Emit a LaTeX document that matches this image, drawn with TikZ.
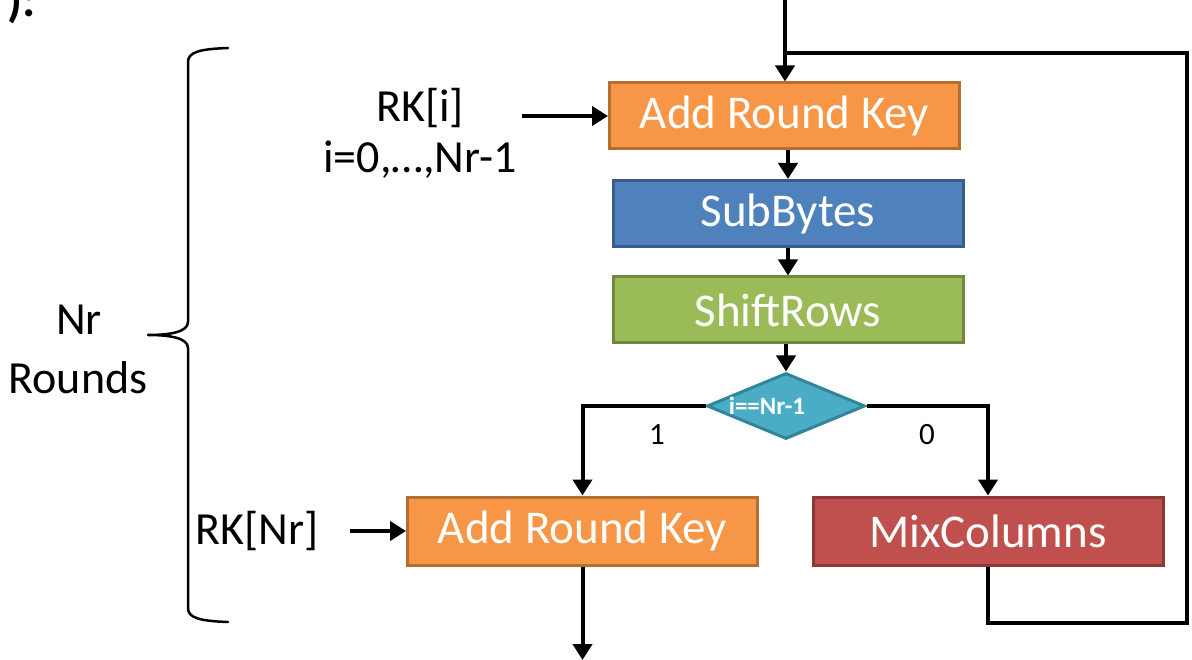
\documentclass[tikz,border=0pt]{standalone}
\usepackage{fontspec}
\setmainfont{Carlito}
\usetikzlibrary{arrows.meta,shapes.geometric}
\definecolor{orF}{HTML}{F79646}\definecolor{orD}{HTML}{B66D31}
\definecolor{blF}{HTML}{4F81BD}\definecolor{blD}{HTML}{385D8A}
\definecolor{grF}{HTML}{9BBB59}\definecolor{grD}{HTML}{71893F}
\definecolor{cyF}{HTML}{4BACC6}\definecolor{cyD}{HTML}{31849B}
\definecolor{rdF}{HTML}{C0504D}\definecolor{rdD}{HTML}{8C3836}
\tikzset{
  opbox/.style={rectangle,draw=#1D,fill=#1F,line width=3pt,inner sep=0pt,
    minimum width=350pt,minimum height=66pt,text=white,
    font=\fontsize{47}{50}\selectfont},
  bigtxt/.style={inner sep=0pt,font=\fontsize{46}{50}\selectfont},
  smalltxt/.style={inner sep=0pt,font=\fontsize{31}{33}\selectfont},
  arr/.style={line width=4pt,-{Triangle[width=19pt,length=16pt]}},
  flow/.style={line width=4pt,line join=miter},
  bracestyle/.style={line width=2.5pt,line join=round,line cap=round}
}
\begin{document}
\begin{tikzpicture}[x=1pt,y=-1pt]
\useasboundingbox (0,0) rectangle (1192,660);
% partial text at top-left
\node[bigtxt,anchor=base east,font=\bfseries\fontsize{48}{50}\selectfont] (frag) at (36,17) {):};
% boxes
\node[opbox=or] (ark1) at (784.5,116) {Add Round Key};
\node[opbox=bl] (sub) at (788,213.5) {SubBytes};
\node[opbox=gr] (shift) at (788,310) {ShiftRows};
\node[diamond,draw=cyD,fill=cyF,line width=3pt,inner sep=0pt,
      minimum width=158pt,minimum height=66pt,aspect=2.4] (dia) at (786,406) {};
\node[inner sep=0pt,text=white,font=\bfseries\fontsize{25}{26}\selectfont] (dlab) at (767,406) {i==Nr-1};
\node[opbox=or,minimum height=68pt] (ark2) at (582.5,531) {Add Round Key};
\node[opbox=rd,minimum height=68pt] (mix) at (988,531) {MixColumns};
% text labels
\node[bigtxt] (rki) at (420,108) {RK[i]};
\node[bigtxt] (rkrange) at (420,160) {i=0,…,Nr-1};
\node[bigtxt] (rknr) at (257,531) {RK[Nr]};
\node[bigtxt] (nr) at (79,320) {Nr};
\node[bigtxt] (rounds) at (78,378) {Rounds};
\node[smalltxt] (one) at (657,435) {1};
\node[smalltxt] (zero) at (927,435) {0};
% coordinates
\coordinate (in) at (785,0);
\coordinate (out) at (582.5,660);
\coordinate (rkiS) at (522,116);
\coordinate (rknrS) at (350,531);
\coordinate (fbr) at (1187,623);
\coordinate (fbt) at (1187,53);
\coordinate (fbj) at (785,53);
% connectors
\draw[arr] (in) -- (in |- ark1.north);
\draw[arr] (ark1.south -| sub.north) -- (sub.north);
\draw[arr] (sub.south) -- (shift.north);
\draw[arr] (shift.south -| dia.north) -- (dia.north);
\draw[arr,line join=miter] (dia.west) -| (ark2.north);
\draw[arr,line join=miter] (dia.east) -| (mix.north);
\draw[arr] (ark2.south) -- (out);
\draw[arr] (rkiS) -- (ark1.west);
\draw[arr] (rknrS) -- (ark2.west);
\draw[flow] (mix.south) |- (fbr) -- (fbt) -- (fbj);
% brace
\draw[bracestyle] (228,48) .. controls (200,49) and (188,52) .. (188,62) -- (188,322)
  .. controls (188,332) and (170,335) .. (148,335)
  .. controls (170,335) and (188,338) .. (188,348) -- (188,608)
  .. controls (188,618) and (200,621) .. (228,622);
\end{tikzpicture}
\end{document}
